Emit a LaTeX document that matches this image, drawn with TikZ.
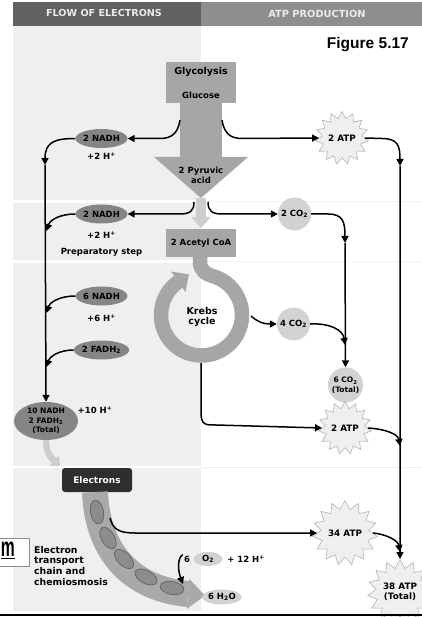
\documentclass[tikz,border=0pt]{standalone}
\usepackage{fontspec}
\setmainfont{DejaVu Sans}
\newfontfamily\figfont{Liberation Sans}
\usetikzlibrary{shapes.geometric,arrows.meta,calc}

\definecolor{hdleft}{HTML}{616161}
\definecolor{hdright}{HTML}{8E8E8E}
\definecolor{panel}{HTML}{EFEFEF}
\definecolor{flowgray}{HTML}{A6A6A6}
\definecolor{carrier}{HTML}{858585}
\definecolor{gasgray}{HTML}{D2D2D2}
\definecolor{paleflow}{HTML}{CDCDCD}
\definecolor{burstfill}{HTML}{EFEFEF}
\definecolor{burstedge}{HTML}{B4B4B4}
\definecolor{bandgray}{HTML}{A9A9A9}
\definecolor{vesicle}{HTML}{8C8C8C}
\definecolor{boxdark}{HTML}{2E2E2E}

\newcommand\lblfont{\fontsize{8.5}{9.5}\selectfont\bfseries}
\newcommand\atpfont{\fontsize{8.8}{9.8}\selectfont\bfseries}
\newcommand\totfont{\fontsize{7.5}{9.5}\selectfont\bfseries}

\begin{document}
\begin{tikzpicture}[x=1pt,y=-1pt,
  carrierE/.style={ellipse, fill=carrier, minimum width=49, minimum height=19, inner sep=0pt, font=\lblfont},
  gas/.style={circle, fill=gasgray, minimum size=33, inner sep=0pt, font=\lblfont, align=center},
  gasE/.style={ellipse, fill=gasgray, inner sep=0pt, font=\lblfont},
  burst/.style={star, star points=15, star point ratio=1.35, fill=burstfill, draw=burstedge, line width=0.6pt, inner sep=0pt, font=\atpfont, align=center},
  note/.style={font=\lblfont, inner sep=1pt, align=center},
  flow/.style={line width=1.5pt, -{Triangle[length=7pt,width=7pt]}},
  boxlbl/.style={fill=flowgray, inner sep=0pt, font=\lblfont}
]
\useasboundingbox (0,0) rectangle (422,617);
\fill[white] (0,0) rectangle (422,617);

% panels and header
\fill[panel] (13,26) rectangle (201,611);
\fill[hdleft] (13,2) rectangle (201,26);
\fill[hdright] (201,2) rectangle (422,26);
\node[font=\fontsize{9.6}{10}\selectfont\bfseries, text=white!92!black] (hdFlow) at (104,13.5) {FLOW OF ELECTRONS};
\node[font=\fontsize{9.8}{10}\selectfont\bfseries, text=white!92!black] (hdATP) at (317,13.5) {ATP PRODUCTION};
\foreach \yy in {201.5,261.5,467}{
  \fill[white] (13,\yy-1.3) rectangle (201,\yy+1.3);
  \draw[black!5, line width=0.8pt] (201,\yy) -- (422,\yy);
}
\node[font=\figfont\fontsize{15.5}{16}\selectfont\bfseries, anchor=base east, inner sep=0pt] (figlabel) at (409,48.3) {Figure 5.17};

% glycolysis block and arrow to pyruvic acid
\node[boxlbl, minimum width=70, minimum height=41, anchor=north] (glyc) at (201,62) {};
\fill[flowgray] (180,102) rectangle (222,158);
\fill[flowgray] (154,157) -- (248,157) -- (201,198) -- cycle;
\node[font=\fontsize{9.5}{10}\selectfont\bfseries] (glyctitle) at (201,72) {Glycolysis};
\node[font=\lblfont] (glucose) at (201,95) {Glucose};
\node[note, font=\fontsize{8.5}{10}\selectfont\bfseries] (pyr) at (201,175) {2 Pyruvic\\acid};

% pale arrow into acetyl CoA
\fill[paleflow] (196,198) rectangle (206,218);
\fill[paleflow] (191,217) -- (211,217) -- (201,228) -- cycle;
\node[boxlbl, minimum width=70, minimum height=27] (acetyl) at (201,243) {2 Acetyl CoA};

% Krebs ring
\coordinate (kc) at (201.5,315);
\draw[flowgray, line width=14.5pt] (200,256) -- (200,262) .. controls (200,270) and (206,274.3) .. ($(kc)+(-75:40.5)$)
   arc[start angle=-75, end angle=235, radius=40.5];
\fill[flowgray] ($(kc)+(235:28)$) -- ($(kc)+(235:53)$) -- ($(kc)+(235:40.5)+(325:13)$) -- cycle;
\node[font=\fontsize{9.5}{10.5}\selectfont\bfseries, align=center] (krebs) at (202,317) {Krebs\\cycle};
\coordinate (ringR) at (251,316);
\coordinate (ringB) at (201,363);

% electron carriers
\node[carrierE] (nadhA) at (101.5,138.5) {2 NADH};
\node[note] (hA) at (101.5,156) {+2 H\textsuperscript{+}};
\node[carrierE] (nadhB) at (101.5,214) {2 NADH};
\node[note] (hB) at (101.5,235) {+2 H\textsuperscript{+}};
\node[note] (prep) at (101.5,252) {Preparatory step};
\node[carrierE] (nadhC) at (101.5,296) {6 NADH};
\node[note] (hC) at (101.5,318) {+6 H\textsuperscript{+}};
\node[carrierE] (fadh) at (101.5,350) {2 FADH\textsubscript{2}};
\node[carrierE, minimum width=64, minimum height=38, align=center, font=\totfont] (total) at (46,421) {10 NADH\\2 FADH\textsubscript{2}\\(Total)};
\node[note] (hT) at (95,410) {+10 H\textsuperscript{+}};

% CO2 and ATP
\node[burst, minimum size=46] (atpA) at (342,138) {2 ATP};
\node[gas] (co2A) at (294.5,214) {2 CO\textsubscript{2}};
\node[gas] (co2B) at (293.5,324) {4 CO\textsubscript{2}};
\node[gas, minimum size=35, font=\totfont] (co2T) at (345.5,385) {6 CO\textsubscript{2}\\(Total)};
\node[burst, minimum size=48] (atpB) at (345,428) {2 ATP};
\node[burst, minimum size=50] (atpC) at (345,533) {34 ATP};
\node[burst, minimum size=56] (atpT) at (400,592) {38 ATP\\(Total)};

% electron transport chain
\node[fill=boxdark, rounded corners=3pt, minimum width=70, minimum height=24, inner sep=0pt,
      text=white, font=\fontsize{9}{10}\selectfont\bfseries] (elec) at (97,480) {Electrons};
\draw[bandgray, line width=26pt] (95,492) .. controls (97,545) and (125,588) .. (188,594);
\fill[bandgray] (189.4,579) -- (186.6,609) -- (205,595.6) -- cycle;
\foreach \px/\py/\rot in {97/512/-80, 108/538/-60, 124/559/-45, 146/577/-28, 172/588/-10}{
  \draw[fill=vesicle, draw=black!60, line width=0.8pt, rotate around={\rot:(\px,\py)}] (\px,\py) ellipse [x radius=12, y radius=6.5];
}
\coordinate (etcOut) at (110,518);
\node[font=\fontsize{9.3}{10.7}\selectfont\bfseries, align=left, anchor=north west, inner sep=0pt] (etcText) at (34,546) {Electron\\transport\\chain and\\chemiosmosis};
\node[note] (six) at (187,559) {6};
\node[gasE, minimum width=29, minimum height=14] (otwo) at (208,559) {O\textsubscript{2}};
\node[note] (hplus) at (246,559) {+ 12 H\textsuperscript{+}};
\node[gasE, minimum width=36, minimum height=15] (water) at (222,597) {6 H\textsubscript{2}O};

% small boxed label at the left edge
\node[draw=black!45, fill=white, minimum width=40, minimum height=28, anchor=east, inner sep=0pt] (mbox) at (29,552) {};
\node[font=\figfont\fontsize{27}{28}\selectfont\bfseries, anchor=base west, inner sep=0pt] (mtxt) at (0.8,556.5) {\underline{\scalebox{0.58}[1]{m}}};

% connectors: glycolysis
\coordinate (gL) at (180,120);
\coordinate (gR) at (222,120);
\draw[flow] (gL) .. controls (178,133) and (172,138.5) .. (160,138.5) -- (nadhA.east);
\draw[flow] (gR) .. controls (224,133) and (230,138.5) .. (242,138.5) -- (atpA.west);
% connectors: preparatory step
\coordinate (pL) at (194,202);
\coordinate (pR) at (208,202);
\draw[flow] (pL) .. controls (194,211) and (190,214) .. (180,214) -- (nadhB.east);
\draw[flow] (pR) .. controls (208,211) and (212,214) .. (222,214) -- (co2A.west);

% left collecting line
\coordinate (vL1) at (45,165);
\coordinate (vL2) at (46.5,231);
\coordinate (vL3) at (46.5,313);
\coordinate (vL4) at (46.5,367);
\draw[flow] (nadhA.west) .. controls (55,138.5) and (45,142) .. (vL1);
\draw[flow] (vL1) -- (total.north);
\draw[flow] (nadhB.west) .. controls (60,214) and (50,220) .. (vL2);
\draw[flow] (nadhC.west) .. controls (60,296) and (50,302) .. (vL3);
\draw[flow] (fadh.west) .. controls (60,350) and (50,356) .. (vL4);

% CO2 line
\coordinate (vC1) at (345,243);
\coordinate (vC2) at (345,345);
\draw[flow] (co2A.east) -- (328,214) .. controls (343,214) and (345,222) .. (vC1);
\draw[flow] (vC1) -- (co2T.north);
\draw[flow] (ringR) .. controls (258,322) and (263,324) .. (co2B.west);
\draw[flow] (co2B.east) .. controls (330,323) and (343,330) .. (vC2);

% ATP line
\coordinate (vA1) at (400,166);
\coordinate (vA2) at (400,446);
\coordinate (vA3) at (400,552);
\draw[flow] (atpA.east) -- (382,138.5) .. controls (398,138.5) and (400,146) .. (vA1);
\draw[flow] (vA1) -- (atpT.north);
\draw[flow] (ringB) -- (201,412) .. controls (201,425) and (205,425) .. (216,425) -- (atpB.west);
\draw[flow] (atpB.east) .. controls (385,429) and (398,434) .. (vA2);
\draw[flow] (etcOut) .. controls (113,530) and (120,533) .. (135,533) -- (atpC.west);
\draw[flow] (atpC.east) .. controls (385,534) and (398,540) .. (vA3);

% into the electron transport chain
\draw[paleflow, line width=6.5pt, -{Triangle[length=8pt,width=14pt]}] (total.south) .. controls (46,452) and (50,457) .. (60,466);
\draw[flow] (six.north west) .. controls (177,558) and (178,571) .. (183,584);

% bottom rule
\draw[line width=2.6pt] (0,615) -- (422,615);
\end{tikzpicture}
\end{document}
